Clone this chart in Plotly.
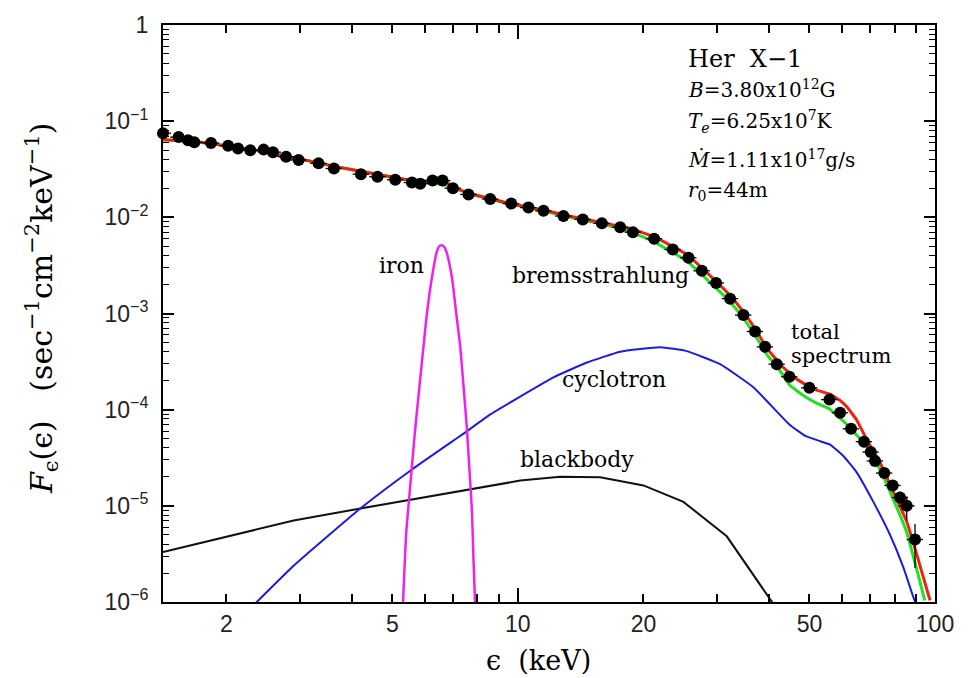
import numpy as np
import plotly.graph_objects as go

# ---- observed spectrum (keV, photons s^-1 cm^-2 keV^-1) ----
obs_e = [1.41, 1.537, 1.619, 1.676, 1.838, 2.020, 2.133, 2.283, 2.457, 2.588,
         2.781, 2.981, 3.328, 3.623, 4.205, 4.608, 5.082, 5.572, 5.834, 6.243,
         6.597, 6.987, 7.614, 8.585, 9.64, 10.60, 11.52, 12.86, 14.31, 15.90,
         17.59, 18.87, 21.22, 23.52, 25.64, 27.61, 29.87, 32.27, 34.73, 37.04,
         39.15, 41.76, 44.77, 49.98, 55.83, 59.23, 62.92, 67.59, 70.15, 71.83,
         75.60, 79.18, 82.44, 85.55, 89.56]
obs_f = [0.0750, 0.0683, 0.0632, 0.0603, 0.0593, 0.0556, 0.0519, 0.0499, 0.0506, 0.0476,
         0.0426, 0.0395, 0.0364, 0.0322, 0.0281, 0.0264, 0.0246, 0.0230, 0.0224, 0.0242,
         0.0241, 0.0201, 0.0173, 0.0155, 0.0139, 0.01262, 0.01168, 0.01031, 0.00952, 0.00866,
         0.00788, 0.00701, 0.00600, 0.00463, 0.00380, 0.00278, 0.00208, 0.001427, 0.000963, 0.000650,
         0.000450, 0.000297, 0.000220, 0.0001686, 0.0001272, 0.0000929, 0.0000632, 0.0000465, 0.0000362, 0.0000293,
         0.0000219, 0.0000163, 0.0000122, 0.0000100, 0.00000446]
# vertical error bars (upper / lower), only resolvable at the high-energy end
obs_err_hi = [0] * 49 + [2.0e-6, 2.0e-6, 1.7e-6, 1.8e-6, 2.5e-6, 2.0e-6]
obs_err_lo = [0] * 49 + [2.0e-6, 2.0e-6, 1.6e-6, 1.8e-6, 2.9e-6, 2.2e-6]

# ---- model components ----
brems_e = [1.41, 1.639, 1.934, 2.283, 2.694, 3.18, 3.751, 4.428, 5.21, 5.834,
           6.10, 6.27, 6.51, 6.77, 7.07, 7.69, 8.59, 9.58, 11.31, 13.35,
           15.75, 18.58, 21.1, 25.4, 29.43, 32.27, 34.73, 37.4, 39.5, 42.5,
           44.94, 48.96, 52.0, 55.67, 61.05, 68.5, 73.7, 79.3, 85.4, 90.2, 94.5]
brems_f = [0.0640, 0.0621, 0.0566, 0.0509, 0.0442, 0.0384, 0.0329, 0.0289, 0.0253, 0.0233,
           0.0229, 0.0226, 0.0221, 0.0215, 0.0200, 0.0175, 0.0155, 0.0137, 0.0119, 0.0100,
           0.0086, 0.0071, 5.63e-3, 3.52e-3, 1.95e-3, 1.32e-3, 8.91e-4, 5.56e-4, 3.76e-4, 2.54e-4,
           1.78e-4, 1.355e-4, 1.17e-4, 1.03e-4, 7.22e-5, 4.18e-5, 2.41e-5, 1.19e-5, 5.42e-6, 2.28e-6, 1.04e-6]

total_e = [1.41, 1.639, 1.934, 2.283, 2.694, 3.18, 3.751, 4.428, 5.21, 5.834,
           6.10, 6.27, 6.45, 6.77, 7.07, 7.69, 8.59, 9.58, 11.31, 13.35,
           15.75, 18.58, 21.13, 25.4, 29.43, 32.27, 34.73, 37.4, 39.5, 42.5,
           45.78, 49.0, 52.0, 56.0, 59.2, 61.45, 64.9, 68.6, 73.8, 79.5,
           85.55, 90.4, 97.3]
total_f = [0.0641, 0.0621, 0.0566, 0.0509, 0.0442, 0.0384, 0.0329, 0.0289, 0.0254, 0.0234,
           0.0239, 0.0248, 0.0252, 0.0230, 0.0203, 0.0176, 0.0157, 0.0139, 0.0121, 0.01026,
           0.00891, 0.00765, 6.33e-3, 4.12e-3, 2.29e-3, 1.54e-3, 1.04e-3, 6.50e-4, 4.40e-4, 2.97e-4,
           2.20e-4, 1.82e-4, 1.60e-4, 1.45e-4, 1.25e-4, 1.07e-4, 7.81e-5, 4.88e-5, 2.82e-5, 1.39e-5,
           6.86e-6, 3.13e-6, 1.04e-6]

cyc_e = [2.338, 2.90, 4.19, 5.52, 6.88, 7.41, 8.59, 10.13, 12.17, 14.64,
         17.59, 21.93, 25.41, 30.53, 36.69, 44.68, 49.0, 53.03, 56.04, 60.3,
         64.9, 71.15, 78.0, 83.97, 88.7, 90.5]
cyc_f = [9.5e-7, 2.38e-6, 9.38e-6, 2.32e-5, 4.51e-5, 5.64e-5, 8.93e-5, 1.37e-4, 2.17e-4, 3.09e-4,
         4.00e-4, 4.46e-4, 4.06e-4, 2.97e-4, 1.71e-4, 7.06e-5, 5.3e-5, 4.70e-5, 4.34e-5, 3.30e-5,
         2.23e-5, 1.10e-5, 5.0e-6, 2.29e-6, 1.13e-6, 9.0e-7]

bb_e = [1.41, 2.007, 2.90, 4.19, 6.05, 8.74, 10.13, 12.63, 15.75, 20.0, 24.94, 31.68, 41.0]
bb_f = [3.31e-6, 4.82e-6, 7.03e-6, 9.38e-6, 1.235e-5, 1.63e-5, 1.83e-5, 2.01e-5, 1.98e-5,
        1.63e-5, 1.10e-5, 4.82e-6, 9.5e-7]

fe_e = [5.302, 5.399, 5.499, 5.603, 5.706, 5.811, 5.940, 6.053, 6.222, 6.397, 6.47,
        6.551, 6.65, 6.733, 6.949, 7.116, 7.272, 7.406, 7.546, 7.656, 7.758, 7.826, 7.899]
fe_f = [9.3e-7, 5.21e-6, 1.34e-5, 3.43e-5, 8.13e-5, 1.78e-4, 4.57e-4, 1.0e-3, 2.37e-3, 4.45e-3, 4.97e-3,
        5.13e-3, 4.97e-3, 4.45e-3, 2.37e-3, 1.0e-3, 4.57e-4, 1.78e-4, 6.43e-5, 2.32e-5, 9.04e-6, 2.79e-6, 9.3e-7]

x_ticks = [2, 5, 10, 20, 50, 100]
x_ticktext = ["2", "5", "10", "20", "50", "100"]
x_minor = [3, 4, 6, 7, 8, 9, 30, 40, 60, 70, 80, 90]
y_ticks = [1, 1e-1, 1e-2, 1e-3, 1e-4, 1e-5, 1e-6]
y_ticktext = ["1", "10<sup>−1</sup>", "10<sup>−2</sup>", "10<sup>−3</sup>",
              "10<sup>−4</sup>", "10<sup>−5</sup>", "10<sup>−6</sup>"]
y_minor = [k * 10.0 ** n for n in range(-6, 0) for k in range(2, 10)]

W, H = 971, 678
ML, MR, MT, MB = 163, 36, 15, 76
PW, PH = W - ML - MR, H - MT - MB


def px(x):
    return (x - ML) / PW


def py(y):
    return (H - MB - y) / PH


SERIF = "DejaVu Serif"
SANS = "Liberation Sans, Arial, sans-serif"

fig = go.Figure()

fig.add_trace(go.Scatter(x=bb_e, y=bb_f, mode="lines",
                         line=dict(color="#111111", width=2)))
fig.add_trace(go.Scatter(x=cyc_e, y=cyc_f, mode="lines",
                         line=dict(color="#1c1ce0", width=2, shape="spline", smoothing=0.4)))
fig.add_trace(go.Scatter(x=fe_e, y=fe_f, mode="lines",
                         line=dict(color="#ee22ee", width=2.5, shape="spline", smoothing=0.6)))
fig.add_trace(go.Scatter(x=brems_e, y=brems_f, mode="lines",
                         line=dict(color="#22e022", width=3, shape="spline", smoothing=0.3)))
fig.add_trace(go.Scatter(x=total_e, y=total_f, mode="lines",
                         line=dict(color="#ee2211", width=3, shape="spline", smoothing=0.3)))
fig.add_trace(go.Scatter(
    x=obs_e, y=obs_f, mode="markers", cliponaxis=False,
    marker=dict(color="black", size=12, symbol="circle"),
    error_x=dict(type="percent", value=4.5, color="black", thickness=1.3, width=0),
    error_y=dict(type="data", symmetric=False, array=obs_err_hi, arrayminus=obs_err_lo,
                 color="black", thickness=1.3, width=0),
))
# carrier for the overlay axis that draws the longer decade tick
fig.add_trace(go.Scatter(x=[], y=[], xaxis="x2", showlegend=False))

axis_common = dict(showline=True, linecolor="black", linewidth=2, mirror="ticks",
                   ticks="inside", tickcolor="black", showgrid=False, zeroline=False)

fig.update_layout(
    width=W, height=H,
    margin=dict(l=ML, r=MR, t=MT, b=MB),
    paper_bgcolor="white", plot_bgcolor="white",
    showlegend=False,
    xaxis=dict(type="log", range=[np.log10(1.41), 2.0],
               tickmode="array", tickvals=x_ticks, ticktext=x_ticktext,
               ticklen=8, tickwidth=1.5, ticklabelstandoff=0,
               tickfont=dict(family=SANS, size=23, color="#222"),
               minor=dict(tickmode="array", tickvals=x_minor, ticks="inside",
                          ticklen=8, tickwidth=1.5, tickcolor="black"),
               **axis_common),
    xaxis2=dict(type="log", range=[np.log10(1.41), 2.0], overlaying="x", anchor="y",
                side="bottom", tickmode="array", tickvals=[10], showticklabels=False,
                ticks="inside", ticklen=14, tickwidth=1.5, tickcolor="black",
                mirror="ticks", showline=False, showgrid=False, zeroline=False),
    yaxis=dict(type="log", range=[-6, 0],
               tickmode="array", tickvals=y_ticks, ticktext=y_ticktext,
               ticklen=11, tickwidth=1.5, ticklabelstandoff=8,
               tickfont=dict(family=SANS, size=23, color="#222"),
               minor=dict(tickmode="array", tickvals=y_minor, ticks="inside",
                          ticklen=6, tickwidth=1.3, tickcolor="black"),
               **axis_common),
)

ann = []
# axis titles
ann.append(dict(x=px(538), y=py(662), xref="paper", yref="paper",
                text="ϵ  (keV)", showarrow=False, xanchor="center", yanchor="middle",
                font=dict(family=SERIF, size=27, color="black")))
ann.append(dict(x=px(41), y=py(303), xref="paper", yref="paper", textangle=-90,
                text="<i>F</i><sub>ϵ</sub>(ϵ)\u00a0\u00a0\u00a0(sec<sup>−1</sup>cm<sup>−2</sup>keV<sup>−1</sup>)",
                showarrow=False, xanchor="center", yanchor="middle",
                font=dict(family=SERIF, size=30, color="black")))

# source and fit parameters
params = [
    (50, "Her\u00a0\u00a0X−1", 24),
    (80, "<i>B</i>=3.80x10<sup>12</sup>G", 20),
    (113, "<i>T</i><sub><i>e</i></sub>=6.25x10<sup>7</sup>K", 20),
    (151, "<i>Ṁ</i>=1.11x10<sup>17</sup>g/s", 20),
    (184, "<i>r</i><sub>0</sub>=44m", 20),
]
for ypix, txt, fs in params:
    ann.append(dict(x=px(686), y=py(ypix), xref="paper", yref="paper", text=txt,
                    showarrow=False, xanchor="left", yanchor="middle",
                    font=dict(family=SERIF, size=fs, color="black")))

# component labels
labels = [
    (377, 260, "iron", 22),
    (510, 270, "bremsstrahlung", 22),
    (789, 327, "total", 21),
    (789, 352, "spectrum", 21),
    (560, 376, "cyclotron", 22),
    (518, 457, "blackbody", 22),
]
for xpix, ypix, txt, fs in labels:
    ann.append(dict(x=px(xpix), y=py(ypix), xref="paper", yref="paper", text=txt,
                    showarrow=False, xanchor="left", yanchor="middle",
                    font=dict(family=SERIF, size=fs, color="black")))

fig.update_layout(annotations=ann)
fig.write_html("out.html")
